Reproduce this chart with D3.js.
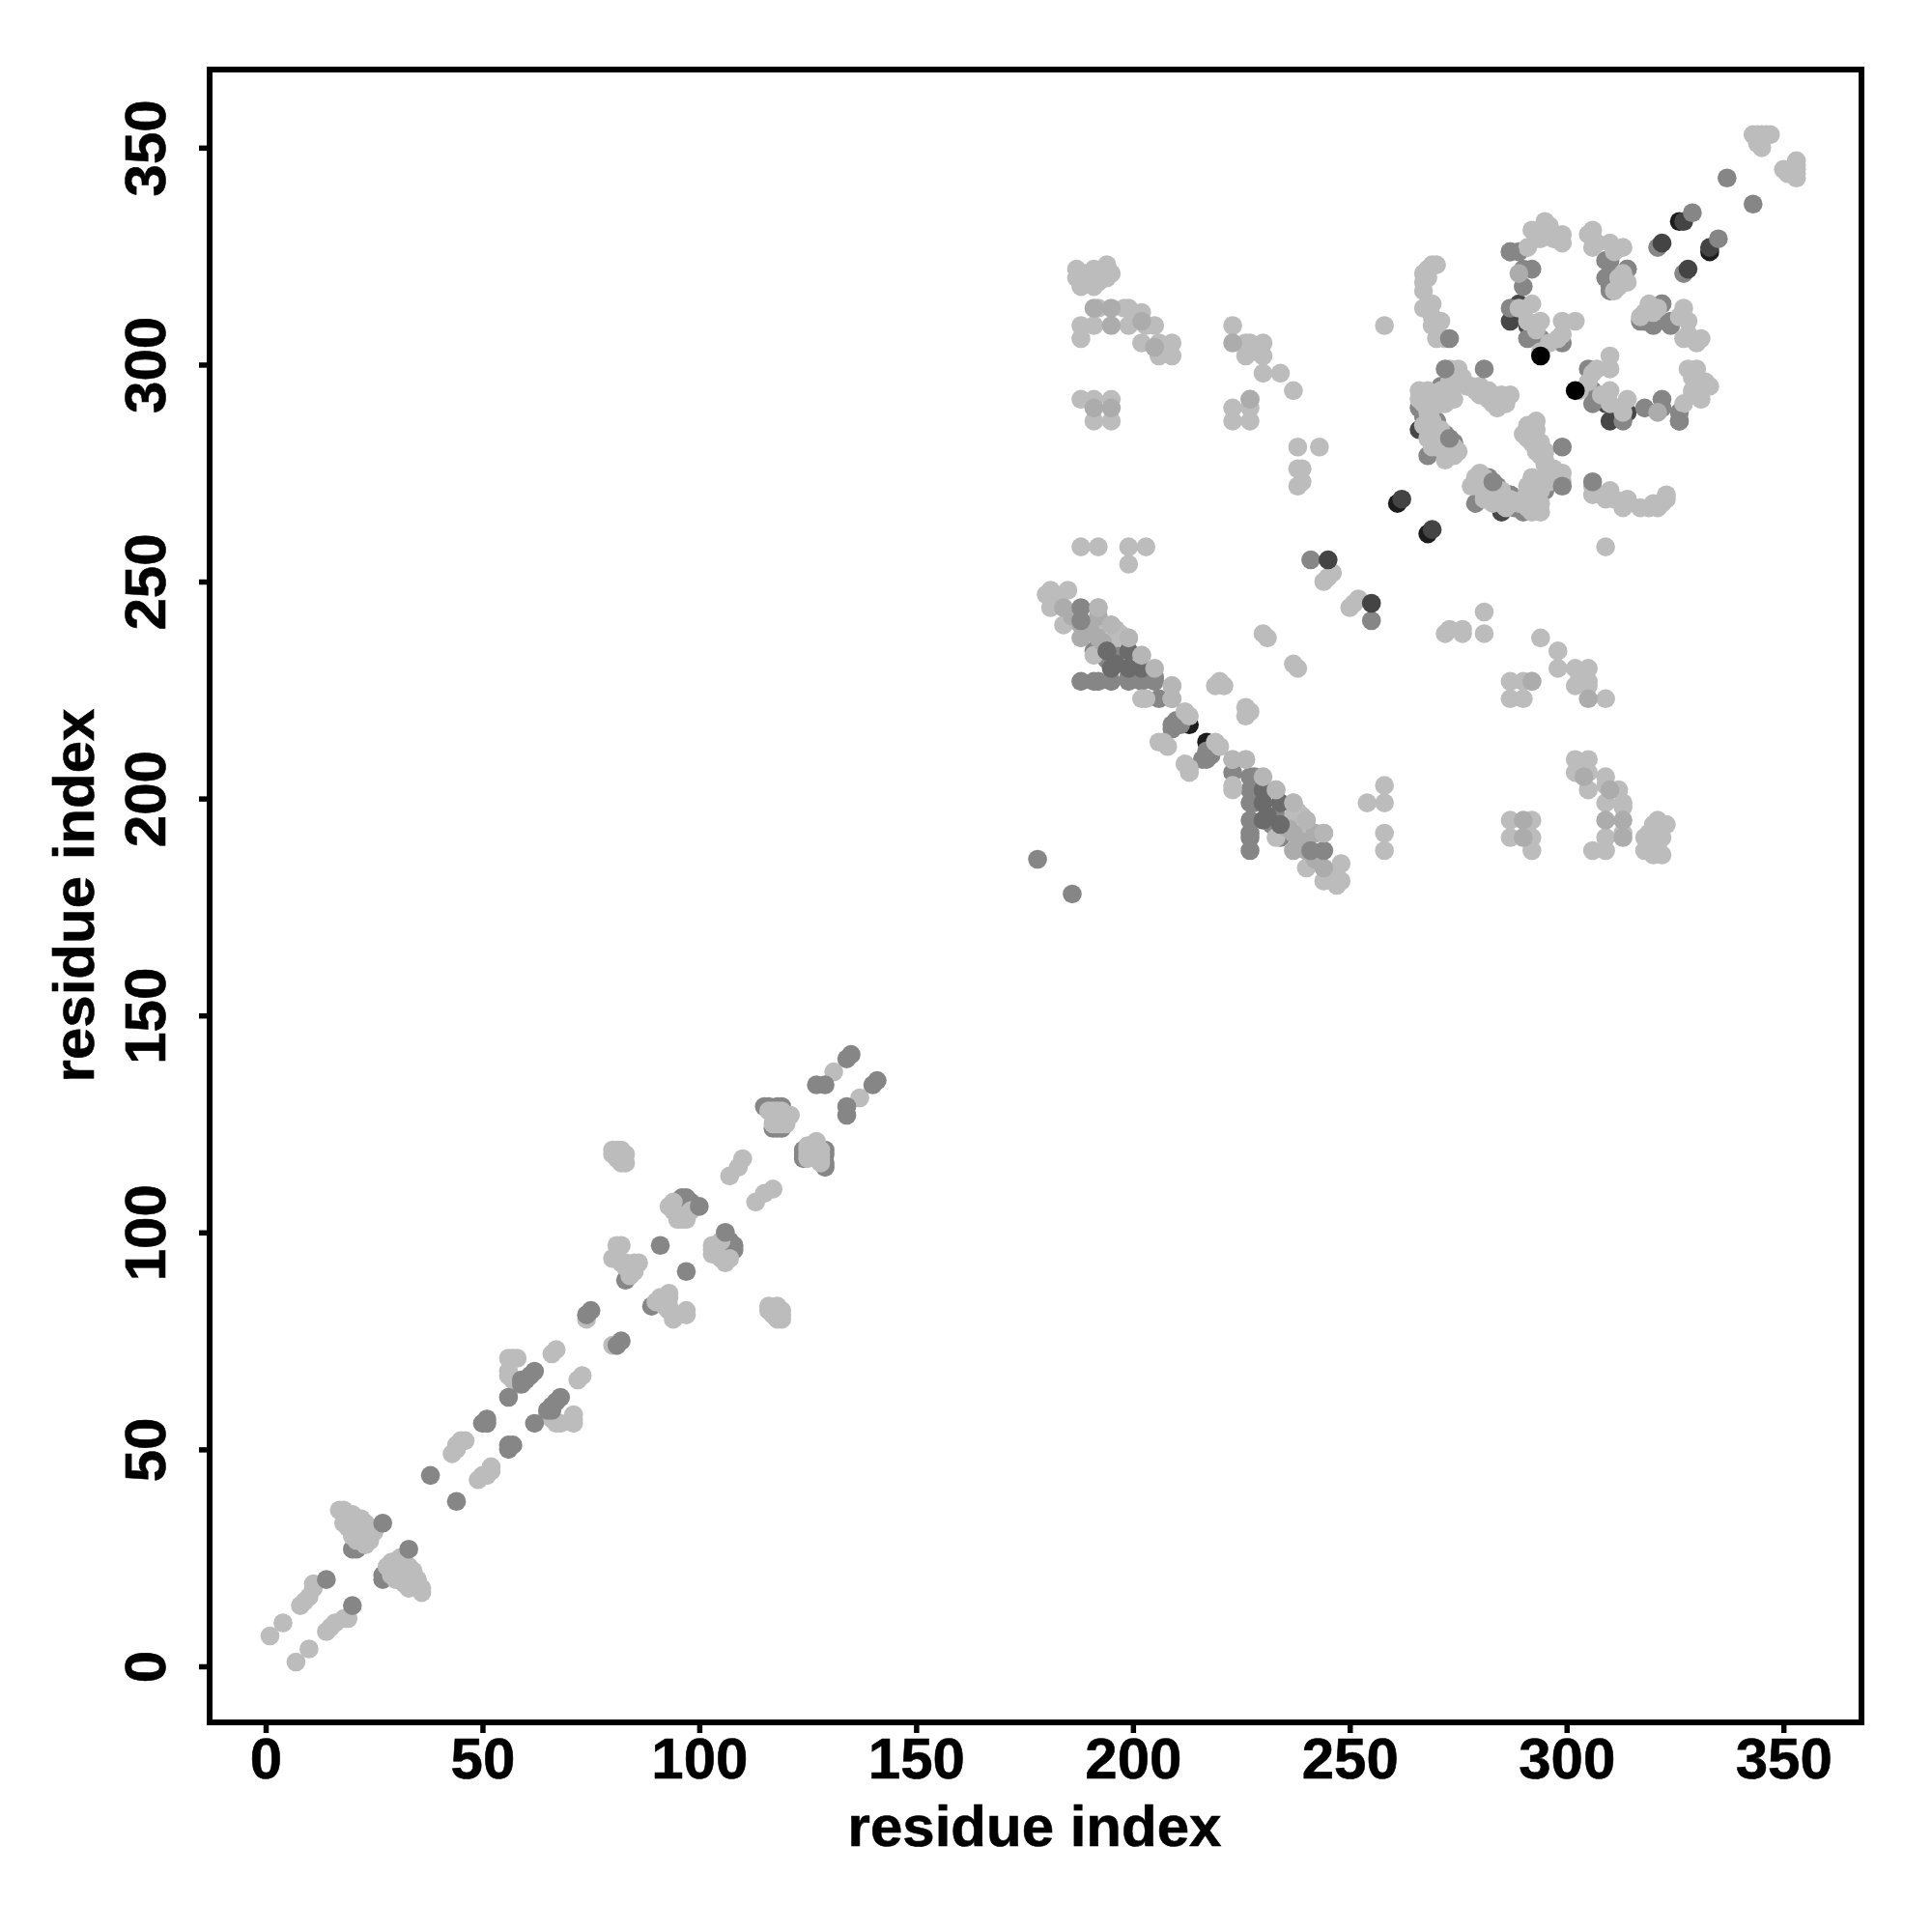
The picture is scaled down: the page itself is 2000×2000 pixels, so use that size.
<!DOCTYPE html>
<html><head><meta charset="utf-8">
<script src="https://cdn.jsdelivr.net/npm/d3@7/dist/d3.min.js"></script>
<style>html,body{margin:0;background:#fff}</style></head>
<body><svg id="c" width="2000" height="2000"></svg>
<script>
const xTicks=[0,50,100,150,200,250,300,350];
const yTicks=[0,50,100,150,200,250,300,350];
const axisTitle="residue index";
const underBlack=[[261,268],[212,218],[213,217],[326,333]];
const underDark=[[266,285],[291,309],[289,314],[287,310]];
const underMid=[[20,27],[21,27],[83,89],[115,129],[116,129],[118,129],[119,129],[117,124],[118,124],[119,124],[95,106],[96,108],[97,108],[98,107],
[266,290],[269,293],[268,292],[270,287],[267,288],[287,313],[290,318],[290,322],[292,322],[287,326],[289,326],[291,306],[294,306],[299,305],[317,310],[320,310],[324,310],[322,314],[309,324],[310,321],[310,318],[314,322],[319,313],[318,310],[309,320],
[282,274],[287,270],[284,272],[279,268],[290,268],[295,271],
[209,216],[209,217],[210,218],[211,217],[191,234],[188,227],[191,227],[192,227],[195,227],[199,227],[202,227],[205,227],[206,223],[194,232],[192,235],[196,233]];
const lightContacts=[[1,7],[4,10],[8,14],[9,15],[10,16],[11,18],[11,19],
[17,36],[18,36],[19,35],[20,35],[21,34],[22,34],[23,33],[24,32],[25,31],[18,33],[19,32],[20,32],[20,30],[21,29],[22,29],[23,28],[21,31],[22,30],[23,30],[24,29],[19,34],[21,33],[23,31],
[43,49],[44,50],[44,51],[45,52],[46,52],[56,71],[57,71],[58,71],[56,67],[58,65],[57,66],[56,68],[66,72],[67,73],[74,80],[74,81],
[80,119],[81,119],[82,119],[83,118],[80,118],[81,117],[82,116],[83,116],[81,118],[82,117],
[81,97],[82,97],[80,94],[81,94],[81,95],[82,93],[83,92],[84,91],[85,91],[86,93],[85,93],[84,90],[83,93],
[93,106],[94,107],[96,103],[97,103],[98,105],[97,104],[95,103],[94,105],
[110,117],[109,115],[107,113],[131,137],
[116,128],[117,127],[118,126],[119,125],[120,127],[121,127],[119,128],[117,125],[118,125],[119,126],[120,125],[117,128],[118,128],[120,126],[118,127],[119,127],
[180,247],[181,248],[182,247],[185,248],[181,244],[184,240],[192,244],[195,240],[199,237],[196,237],[196,239],[197,238],[191,233],[202,233],[209,226],[202,223],[203,223],[209,223],[212,220],[213,219],[206,213],[207,213],[208,212],[192,240],
[188,258],[192,258],[199,258],[203,258],[199,254],[244,250],[246,252],[245,251],[250,244],[252,246],[251,245],[230,238],[231,237],[220,227],[221,226],[219,226],
[187,322],[187,320],[188,318],[191,322],[191,321],[191,318],[194,323],[195,321],[194,320],[189,321],[192,313],[192,319],
[188,309],[191,309],[199,313],[198,313],[202,312],[199,309],[203,309],[205,309],[202,305],[206,305],[209,305],[206,302],[209,302],[188,306],
[188,292],[191,292],[195,292],[191,287],[195,287],
[223,309],[226,305],[227,305],[226,302],[227,304],[228,303],[230,305],[230,302],[230,298],[234,298],[237,294],
[223,287],[223,290],[227,292],[227,290],[227,287],
[238,281],[243,281],[238,276],[239,276],[239,273],[238,272],[258,309],
[343,353],[344,353],[345,353],[346,353],[347,353],[344,351],[345,350],[344,352],
[267,319],[267,321],[268,322],[269,323],[270,323],[268,320],[267,317],[267,313],[269,314],[269,311],[271,310],[269,309],[270,306],[272,306],[273,299],[275,299],[266,294],
[268,294],[267,291],[269,290],[268,287],[269,285],[268,283],[270,284],[270,281],[272,280],[273,279],[274,279],[272,282],[271,285],[269,281],[272,278],
[266,292],[267,293],[267,286],[268,289],[269,287],[271,283],[268,291],[273,281],[274,281],[275,280],
[271,294],[272,293],[273,296],[276,296],[274,295],[278,295],[280,295],[282,294],[283,293],[285,293],[287,293],[284,290],[286,291],[280,293],[282,292],[272,291],[270,292],
[276,297],[277,295],[279,294],[281,293],[283,291],[285,291],[273,293],[274,292],[271,291],
[285,280],[286,282],[287,283],[288,284],[289,284],[290,285],[292,284],[293,283],[294,285],[295,284],[296,283],[293,280],[294,278],[295,277],[296,275],[297,273],[299,273],[298,274],[291,272],[293,270],[294,269],[295,268],[289,268],[287,268],[291,268],[285,270],[283,271],[284,270],[287,272],[289,272],
[291,327],[292,331],[293,329],[294,329],[295,333],[295,330],[297,329],[299,330],[299,328],[296,332],
[289,313],[292,314],[291,310],[294,310],[293,308],[294,303],[299,310],[302,310],[298,306],[296,305],[299,307],
[306,331],[306,329],[306,327],[310,328],[313,327],[311,326],[312,320],[311,317],[313,321],[312,318],[314,319],
[319,312],[320,313],[321,313],[327,312],[328,310],[327,305],[329,305],[331,305],[327,308],
[305,330],[307,328],[304,299],[306,298]].filter(d=>d[0]<d[1]);
const softContacts=[[184,244],[188,240],[186,242],[188,237],[192,237],[190,239],[193,236],[192,242],[191,313],[195,313],[195,309],[195,290],[191,290],[223,305],[227,292],[202,310],[205,304],[289,321]];
const overMid=[[14,20],[27,33],[38,44],[50,56],[51,57],[51,56],[56,62],[59,65],[59,66],[60,66],[61,67],[62,68],[74,81],[75,82],[91,97],[100,106],[127,134],[129,134],[134,140],[135,141],[178,186],
[188,244],[188,241],[199,228],[205,228],[241,255],[272,299],[281,299],[273,306],[273,283],[287,326],[321,327],[337,343]];
const overDeep=[[194,234],[199,234],[195,230],[199,230],[202,230],[196,231]];
const overDark=[[245,255],[262,269],[322,328],[327,333]];
const overBlack=[[294,302]];
const topSoft=[[199,237],[202,233],[205,230],[209,226],[209,223],[195,240],[192,244]];
const topMid=[[329,335]];

const layers=[
 [underBlack,"#1c1c1c"],[underDark,"#474747"],[underMid,"#868686"],
 [lightContacts,"#bcbcbc"],[softContacts,"#acacac"],
 [overMid,"#868686"],[overDeep,"#6b6b6b"],[overDark,"#444444"],[overBlack,"#000000"],
 [topSoft,"#b6b6b6"],[topMid,"#868686"]
];

const x=d3.scaleLinear().domain([-12.92,368]).range([217,1927]);
const y=d3.scaleLinear().domain([-12.92,368]).range([1783,72]);
const svg=d3.select("#c");
const font="'Liberation Sans',Arial,sans-serif";

layers.forEach(([list,col])=>{
  const pts=list.flatMap(([i,j])=>[[i,j],[j,i]]);
  svg.append("g").attr("fill",col).selectAll("circle").data(pts).join("circle")
    .attr("cx",d=>x(d[0])).attr("cy",d=>y(d[1])).attr("r",9.8);
});

svg.append("rect").attr("x",x.range()[0]).attr("y",y.range()[1])
  .attr("width",x.range()[1]-x.range()[0]).attr("height",y.range()[0]-y.range()[1])
  .attr("fill","none").attr("stroke","#000").attr("stroke-width",6);

const gx=svg.append("g").attr("transform",`translate(0,${y.range()[0]})`)
  .call(d3.axisBottom(x).tickValues(xTicks).tickFormat(d3.format("d")).tickSize(11).tickPadding(19));
const gy=svg.append("g").attr("transform",`translate(${x.range()[0]},0)`)
  .call(d3.axisLeft(y).tickValues(yTicks).tickFormat(d3.format("d")).tickSize(11));
[gx,gy].forEach(g=>{
  g.select(".domain").remove();
  g.selectAll("line").attr("stroke","#000").attr("stroke-width",5.5);
  g.selectAll("text").attr("font-family",font).attr("font-weight","700").attr("font-size",60)
    .attr("fill","#000").attr("stroke","#000").attr("stroke-width",0.6);
});
gx.selectAll("text").attr("dy",null).attr("transform",null).attr("y",1841-1783);
gy.selectAll("text").attr("x",null).attr("dy",null).attr("y",null)
  .attr("text-anchor","middle")
  .attr("transform",`translate(${171-217},0) rotate(-90)`);

svg.append("text").attr("x",1071).attr("y",1911).attr("text-anchor","middle")
  .attr("font-family",font).attr("font-weight","700").attr("font-size",60).attr("stroke","#000").attr("stroke-width",0.6).text(axisTitle);
svg.append("text").attr("transform","translate(97,927) rotate(-90)").attr("text-anchor","middle")
  .attr("font-family",font).attr("font-weight","700").attr("font-size",60).attr("stroke","#000").attr("stroke-width",0.6).text(axisTitle);
</script></body></html>
